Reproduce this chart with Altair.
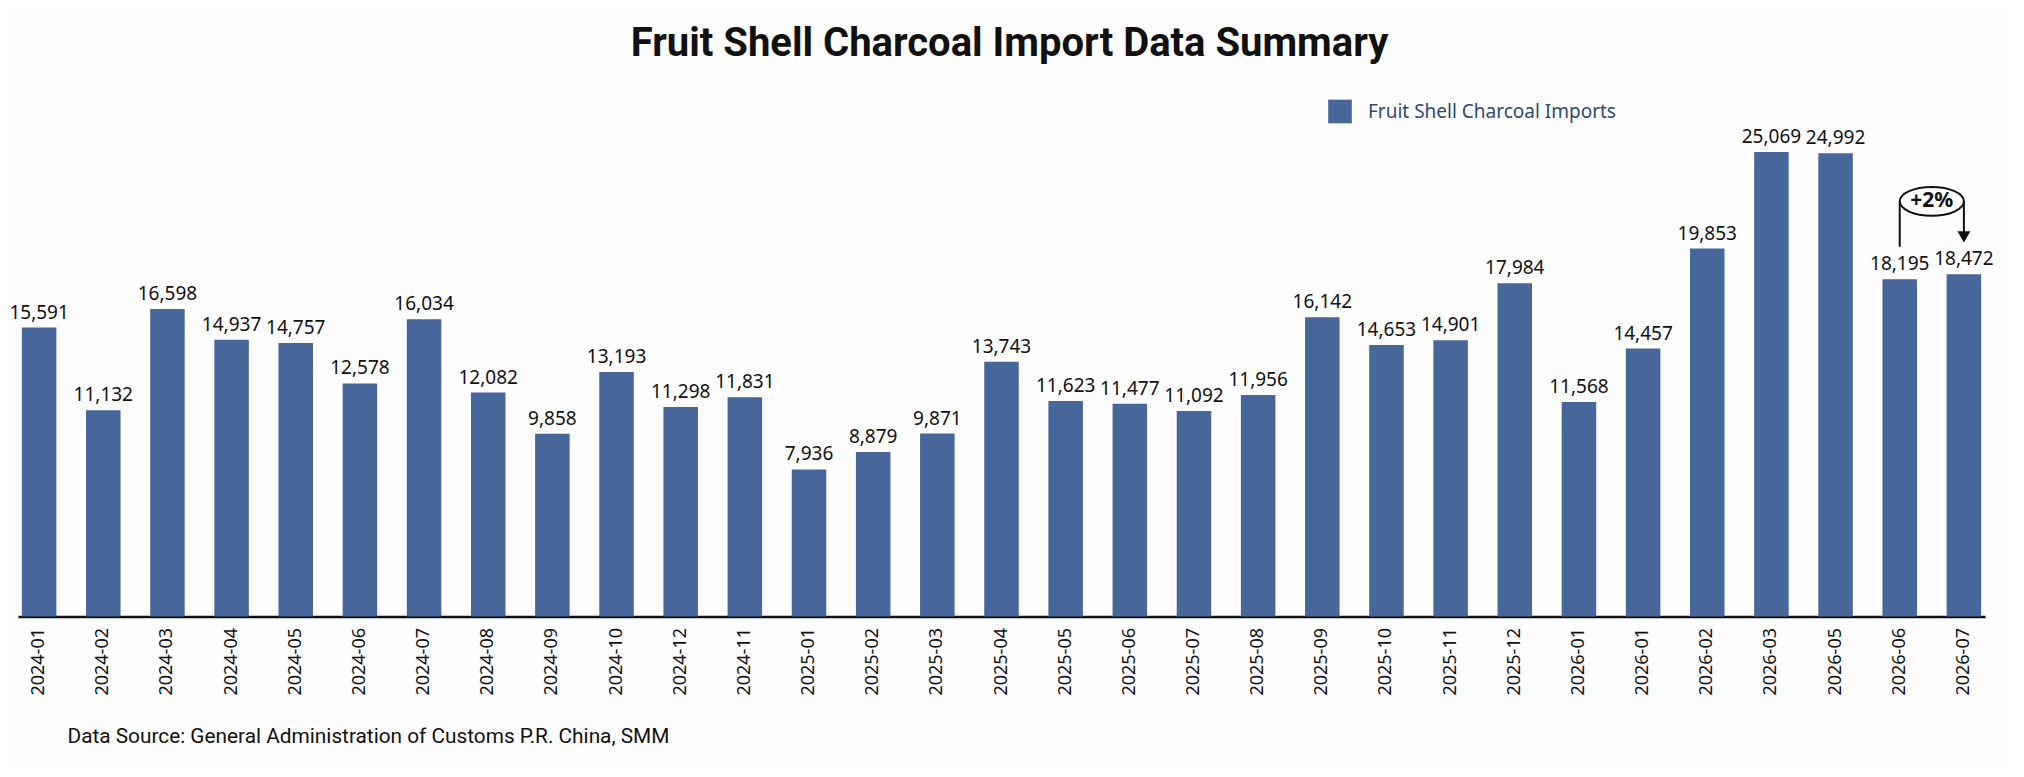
import altair as alt
import pandas as pd

# chart data
months = ['2024-01', '2024-02', '2024-03', '2024-04', '2024-05', '2024-06',
          '2024-07', '2024-08', '2024-09', '2024-10', '2024-12', '2024-11',
          '2025-01', '2025-02', '2025-03', '2025-04', '2025-05', '2025-06',
          '2025-07', '2025-08', '2025-09', '2025-10', '2025-11', '2025-12',
          '2026-01', '2026-01', '2026-02', '2026-03', '2026-05', '2026-06',
          '2026-07']
imports = [15591, 11132, 16598, 14937, 14757, 12578, 16034, 12082, 9858,
           13193, 11298, 11831, 7936, 8879, 9871, 13743, 11623, 11477,
           11092, 11956, 16142, 14653, 14901, 17984, 11568, 14457, 19853,
           25069, 24992, 18195, 18472]
series_name = 'Fruit Shell Charcoal Imports'
source = 'Data Source: General Administration of Customs P.R. China, SMM'

# the "+2%" callout between the last two bars
ann_slots = [29, 30]
ann_low = [19950, 20480]
ann_level = 22400
ann_text = '+2%'

bar_color = '#47669a'
step = 64.15

df = pd.DataFrame({'slot': range(len(months)), 'month': months,
                   'imports': imports, 'series': series_name})
ann = pd.DataFrame({'slot': ann_slots, 'low': ann_low, 'level': ann_level})
mid = pd.DataFrame({'slot': [ann_slots[0]], 'level': [ann_level], 'label': [ann_text]})

label_js = '[' + ','.join("'%s'" % m for m in months) + ']'

x = alt.X('slot:O', title=source,
          scale=alt.Scale(paddingInner=0.462, paddingOuter=0.06),
          axis=alt.Axis(labelExpr=label_js + '[datum.value]', labelAngle=270,
                        labelFont='Noto Sans', labelFontSize=18, labelColor='#111',
                        labelPadding=11, ticks=False, domainColor='#111', domainWidth=2.5,
                        titleFont='Roboto', titleFontSize=20.8, titleFontWeight='normal',
                        titleColor='#111', titleAnchor='start', titleAlign='left',
                        titleX=49, titleY=126, titleBaseline='alphabetic'))
y = alt.Y('imports:Q', axis=None, scale=alt.Scale(domain=[0, 30000]))

bars = alt.Chart(df).mark_bar().encode(
    x=x, y=y,
    color=alt.Color('series:N',
                    scale=alt.Scale(domain=[series_name], range=[bar_color]),
                    legend=alt.Legend(title=None, orient='none', legendX=1310, legendY=39,
                                      symbolType='square', symbolSize=560, symbolStrokeWidth=0,
                                      labelFont='Noto Sans', labelFontSize=19, labelLimit=0,
                                      labelColor='#2d4a70', labelOffset=16, padding=0))
)

labels = alt.Chart(df).mark_text(font='Noto Sans', fontSize=19, color='#111',
                                 baseline='alphabetic', dy=-9).encode(
    x='slot:O', y='imports:Q', text=alt.Text('imports:Q', format=',')
)

rules = alt.Chart(ann).mark_rule(color='#111', strokeWidth=2).encode(
    x='slot:O', y='level:Q', y2='low:Q'
)
arrow = alt.Chart(ann.iloc[[1]]).mark_point(shape='triangle-down', filled=True,
                                            color='#111', size=170, opacity=1).encode(
    x='slot:O', y='low:Q'
)
ellipse_path = ('M -1 0 C -1 -0.249 -0.552 -0.45 0 -0.45 C 0.552 -0.45 1 -0.249 1 0 '
                'C 1 0.249 0.552 0.45 0 0.45 C -0.552 0.45 -1 0.249 -1 0 Z')
ellipse = alt.Chart(mid).mark_point(shape=ellipse_path, size=step * step, filled=True,
                                    fill='#fdfdfd', stroke='#111', strokeWidth=2,
                                    opacity=1, xOffset=step / 2).encode(
    x='slot:O', y='level:Q'
)
ann_label = alt.Chart(mid).mark_text(font='Noto Sans', fontSize=21, fontWeight='bold',
                                     color='#111', xOffset=step / 2, baseline='middle').encode(
    x='slot:O', y='level:Q', text='label:N'
)

chart = alt.layer(bars, labels, rules, ellipse, ann_label, arrow).properties(
    width=1967, height=556,
    autosize=alt.AutoSizeParams(type='none'),
    padding={'left': 10, 'top': 52.5, 'right': 22, 'bottom': 150},
    background='#fdfdfd',
    title=alt.Title('Fruit Shell Charcoal Import Data Summary', font='Roboto',
                    fontSize=40, fontWeight='bold', color='#111', anchor='middle',
                    dx=8, dy=3, offset=0)
).configure_view(stroke=None)

chart.save('out.html', embed_options={'renderer': 'svg', 'actions': False})
